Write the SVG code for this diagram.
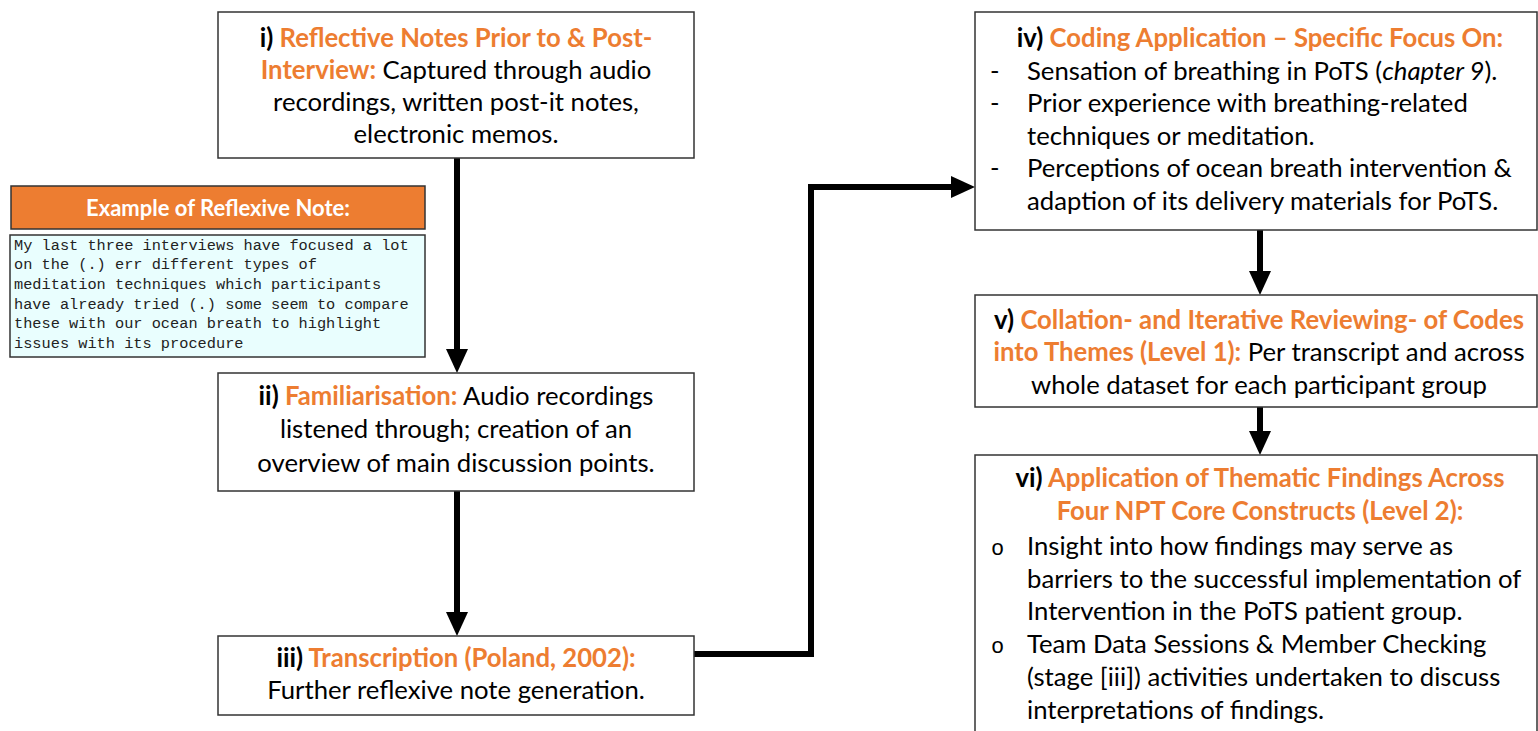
<svg xmlns="http://www.w3.org/2000/svg" width="1538" height="731" viewBox="0 0 1538 731">
<style>
.box{fill:#fff;stroke:#333;stroke-width:1.5}
.t{font-family:Lato,"Liberation Sans",sans-serif;font-size:25.7px;fill:#000}
.c{text-anchor:middle}
.b{font-weight:bold}
.o{fill:#ED7D31;font-weight:bold}
.mono{font-family:"Liberation Mono","DejaVu Sans Mono",monospace;font-size:15.3px;fill:#222}
.bul{font-family:"Liberation Mono",monospace;font-size:22px;fill:#000}
.conn{fill:none;stroke:#000;stroke-width:6}
</style>
<defs>
<marker id="ah" markerUnits="userSpaceOnUse" markerWidth="24" markerHeight="22" refX="0" refY="11" orient="auto">
<path d="M0,0 L24,11 L0,22 z" fill="#000"/>
</marker>
</defs>
<g id="connectors">
<path class="conn" d="M457,158 V349" marker-end="url(#ah)"/>
<path class="conn" d="M457,491 V612" marker-end="url(#ah)"/>
<path class="conn" d="M694,654 H811 V187 H951" marker-end="url(#ah)"/>
<path class="conn" d="M1260,230 V271" marker-end="url(#ah)"/>
<path class="conn" d="M1260,407 V431" marker-end="url(#ah)"/>
</g>
<g id="node-i">
<rect class="box" x="218" y="12" width="476" height="146"/>
<text class="t c" x="456" y="47"><tspan class="b">i) </tspan><tspan class="o">Reflective Notes Prior to &amp; Post-</tspan></text>
<text class="t c" x="456" y="79"><tspan class="o">Interview:</tspan> Captured through audio</text>
<text class="t c" x="456" y="111">recordings, written post-it notes,</text>
<text class="t c" x="456" y="143">electronic memos.</text>
</g>
<g id="node-example">
<rect x="11" y="186" width="414" height="43" fill="#ED7D31" stroke="#333" stroke-width="1.5"/>
<text x="218" y="216" class="t c b" style="font-size:22px;fill:#fff">Example of Reflexive Note:</text>
<rect x="10" y="235" width="415" height="122" fill="#E9FEFE" stroke="#333" stroke-width="1.5"/>
<text class="mono" x="14" y="250">My last three interviews have focused a lot</text>
<text class="mono" x="14" y="269">on the (.) err different types of</text>
<text class="mono" x="14" y="289">meditation techniques which participants</text>
<text class="mono" x="14" y="309">have already tried (.) some seem to compare</text>
<text class="mono" x="14" y="328">these with our ocean breath to highlight</text>
<text class="mono" x="14" y="348">issues with its procedure</text>
</g>
<g id="node-ii">
<rect class="box" x="218" y="373" width="476" height="118"/>
<text class="t c" x="456" y="405"><tspan class="b">ii) </tspan><tspan class="o">Familiarisation:</tspan> Audio recordings</text>
<text class="t c" x="456" y="438">listened through; creation of an</text>
<text class="t c" x="456" y="472">overview of main discussion points.</text>
</g>
<g id="node-iii">
<rect class="box" x="218" y="636" width="476" height="79"/>
<text class="t c" x="456" y="667"><tspan class="b">iii) </tspan><tspan class="o">Transcription (Poland, 2002):</tspan></text>
<text class="t c" x="456" y="699">Further reflexive note generation.</text>
</g>
<g id="node-iv">
<rect class="box" x="975" y="12" width="562" height="218"/>
<text class="t c" x="1260" y="47"><tspan class="b">iv) </tspan><tspan class="o">Coding Application – Specific Focus On:</tspan></text>
<text class="t" x="990" y="80">-</text>
<text class="t" x="1027" y="80">Sensation of breathing in PoTS (<tspan font-style="italic">chapter 9</tspan>).</text>
<text class="t" x="990" y="112">-</text>
<text class="t" x="1027" y="112">Prior experience with breathing-related</text>
<text class="t" x="1027" y="145">techniques or meditation.</text>
<text class="t" x="990" y="177">-</text>
<text class="t" x="1027" y="177">Perceptions of ocean breath intervention &amp;</text>
<text class="t" x="1027" y="210">adaption of its delivery materials for PoTS.</text>
</g>
<g id="node-v">
<rect class="box" x="975" y="295" width="562" height="112"/>
<text class="t c" x="1259" y="329"><tspan class="b">v) </tspan><tspan class="o">Collation- and Iterative Reviewing- of Codes</tspan></text>
<text class="t c" x="1259" y="361"><tspan class="o">into Themes (Level 1):</tspan> Per transcript and across</text>
<text class="t c" x="1259" y="394">whole dataset for each participant group</text>
</g>
<g id="node-vi">
<rect class="box" x="975" y="455" width="562" height="290"/>
<text class="t c" x="1260" y="487"><tspan class="b">vi) </tspan><tspan class="o">Application of Thematic Findings Across</tspan></text>
<text class="t c" x="1260" y="520"><tspan class="o">Four NPT Core Constructs (Level 2):</tspan></text>
<text class="bul" x="991" y="555">o</text>
<text class="t" x="1027" y="555">Insight into how findings may serve as</text>
<text class="t" x="1027" y="588">barriers to the successful implementation of</text>
<text class="t" x="1027" y="620">Intervention in the PoTS patient group.</text>
<text class="bul" x="991" y="653">o</text>
<text class="t" x="1027" y="653">Team Data Sessions &amp; Member Checking</text>
<text class="t" x="1027" y="686">(stage [iii]) activities undertaken to discuss</text>
<text class="t" x="1027" y="719">interpretations of findings.</text>
</g>
</svg>
